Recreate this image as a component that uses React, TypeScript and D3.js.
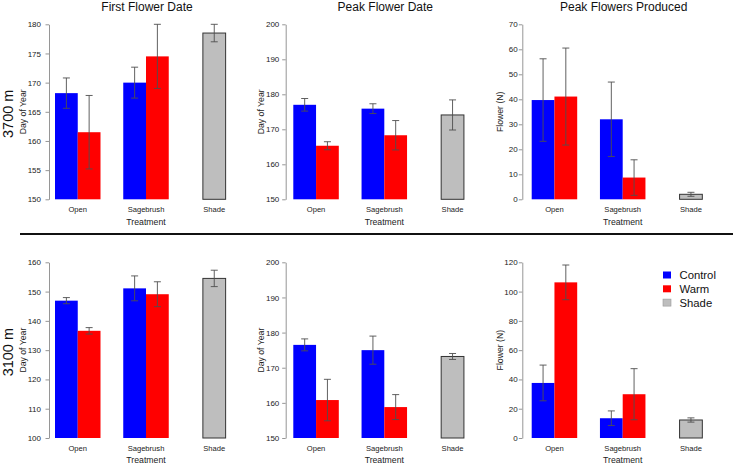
import React, { useRef, useEffect } from 'react';
import * as d3 from 'd3';

// treatment groups on the x axis and the bar series
const groups = ['Open', 'Sagebrush', 'Shade'];
const pairTreatments = ['Control', 'Warm'];
const legendLabels = ['Control', 'Warm', 'Shade'];
const sites = ['3700 m', '3100 m'];
const panelTitles = ['First Flower Date', 'Peak Flower Date', 'Peak Flowers Produced'];
const yTitles = ['Day of Year', 'Day of Year', 'Flower (N)'];

// bar order: Open-Control, Open-Warm, Sagebrush-Control, Sagebrush-Warm, Shade
const barGroups = ['Open', 'Open', 'Sagebrush', 'Sagebrush', 'Shade'];
const barTreatments = ['Control', 'Warm', 'Control', 'Warm', 'Shade'];

// 3700 m
const firstFlower3700 = [168.2, 161.5, 170.0, 174.5, 178.5];
const firstFlower3700Err = [2.6, 6.3, 2.65, 5.5, 1.5];
const peakDate3700 = [177.0, 165.3, 175.9, 168.3, 174.1];
const peakDate3700Err = [1.8, 1.15, 1.4, 4.2, 4.3];
const peakFlowers3700 = [39.7, 41.1, 32.0, 8.7, 2.0];
const peakFlowers3700Err = [16.5, 19.4, 14.9, 7.1, 0.8];

// 3100 m
const firstFlower3100 = [146.9, 136.6, 151.1, 149.1, 154.5];
const firstFlower3100Err = [1.05, 1.1, 4.25, 4.25, 2.8];
const peakDate3100 = [176.5, 160.8, 175.0, 158.8, 173.2];
const peakDate3100Err = [1.7, 5.9, 4.0, 3.55, 0.85];
const peakFlowers3100 = [37.6, 106.3, 13.5, 29.9, 12.3];
const peakFlowers3100Err = [12.2, 11.85, 5.0, 17.45, 1.45];

// y axis ranges and tick steps
const yDomains3700 = [[150, 180], [150, 200], [0, 70]];
const yTicks3700 = [5, 10, 10];
const yDomains3100 = [[100, 160], [150, 200], [0, 120]];
const yTicks3100 = [10, 10, 20];

const colors: Record<string, string> = { Control: '#0000ff', Warm: '#ff0000', Shade: '#bebebe' };

const FONT = '"Liberation Sans", Arial, sans-serif';

const App = () => {
  const ref = useRef<SVGSVGElement>(null);

  useEffect(() => {
    const svg = d3.select(ref.current);
    svg.selectAll('*').remove();

    const colStart = [55, 293.3, 531.7];
    const axisGap = [6, 7.6, 9.4];
    const rowBottom = [199.3, 438];
    const rowTop = [24.3, 262.3];

    const rows = [
      { vals: [firstFlower3700, peakDate3700, peakFlowers3700], errs: [firstFlower3700Err, peakDate3700Err, peakFlowers3700Err], domains: yDomains3700, steps: yTicks3700 },
      { vals: [firstFlower3100, peakDate3100, peakFlowers3100], errs: [firstFlower3100Err, peakDate3100Err, peakFlowers3100Err], domains: yDomains3100, steps: yTicks3100 },
    ];

    rows.forEach((row, r) => {
      // site label
      const midY = (rowTop[r] + rowBottom[r]) / 2;
      svg.append('text')
        .attr('transform', `translate(13,${midY + 2}) rotate(-90)`)
        .attr('text-anchor', 'middle')
        .style('font-family', FONT)
        .style('font-size', '14.5px')
        .attr('fill', '#111')
        .text(sites[r]);

      row.vals.forEach((vals, c) => {
        const start = colStart[c];
        const errs = row.errs[c];
        const dom = row.domains[c];

        const x = d3.scaleBand().domain(groups).range([start, start + 182]).paddingInner(1 / 3);
        const sub = d3.scaleBand().domain(pairTreatments).range([0, x.bandwidth()]);
        const barW = sub.bandwidth();
        const y = d3.scaleLinear().domain(dom).range([rowBottom[r], rowTop[r]]);

        const barX = (i: number) => barGroups[i] === 'Shade'
          ? (x(barGroups[i]) as number) + x.bandwidth() / 2 - barW / 2
          : (x(barGroups[i]) as number) + (sub(barTreatments[i]) as number);

        const g = svg.append('g');

        // y axis
        const axisX = start - axisGap[c];
        const labelRight = start - 14;
        const ticks = d3.range(dom[0], dom[1] + 0.001, row.steps[c]);
        const ax = g.append('g')
          .attr('transform', `translate(${axisX},0)`)
          .call(d3.axisLeft(y).tickValues(ticks).tickSize(3.5).tickSizeOuter(0)
            .tickPadding(axisX - 3.5 - labelRight).tickFormat(d3.format('d')));
        ax.select('.domain').attr('stroke', '#8a8a8a').attr('stroke-width', 0.9);
        ax.selectAll('.tick line').attr('stroke', '#8a8a8a').attr('stroke-width', 0.9);
        ax.selectAll('.tick text')
          .style('font-family', FONT)
          .style('font-size', '8px')
          .attr('fill', '#222');

        // y title
        g.append('text')
          .attr('transform', `translate(${start - 29},${midY}) rotate(-90)`)
          .attr('text-anchor', 'middle')
          .style('font-family', FONT)
          .style('font-size', '8.7px')
          .attr('fill', '#222')
          .text(yTitles[c]);

        // bars
        g.selectAll('rect.bar')
          .data(vals)
          .enter().append('rect')
          .attr('class', 'bar')
          .attr('x', (d, i) => barX(i))
          .attr('width', barW)
          .attr('y', d => y(d))
          .attr('height', d => y(dom[0]) - y(d))
          .attr('fill', (d, i) => colors[barTreatments[i]])
          .attr('stroke', (d, i) => barTreatments[i] === 'Shade' ? '#333' : 'none')
          .attr('stroke-width', 1);

        // error bars
        vals.forEach((v, i) => {
          const cx = barX(i) + barW / 2;
          const lo = Math.max(v - errs[i], dom[0]);
          const hi = v + errs[i];
          const eg = g.append('g').attr('stroke', '#4f4f4f').attr('stroke-width', 0.9);
          eg.append('line').attr('x1', cx).attr('x2', cx).attr('y1', y(lo)).attr('y2', y(hi));
          eg.append('line').attr('x1', cx - 3.5).attr('x2', cx + 3.5).attr('y1', y(lo)).attr('y2', y(lo));
          eg.append('line').attr('x1', cx - 3.5).attr('x2', cx + 3.5).attr('y1', y(hi)).attr('y2', y(hi));
        });

        // category labels
        g.selectAll('text.cat')
          .data(groups)
          .enter().append('text')
          .attr('class', 'cat')
          .attr('x', d => d === 'Shade' ? barX(4) + barW / 2 : (x(d) as number) + x.bandwidth() / 2)
          .attr('y', rowBottom[r] + 12.6)
          .attr('text-anchor', 'middle')
          .style('font-family', FONT)
          .style('font-size', '7.6px')
          .attr('fill', '#222')
          .text(d => d);

        g.append('text')
          .attr('x', start + 91)
          .attr('y', rowBottom[r] + 25.3)
          .attr('text-anchor', 'middle')
          .style('font-family', FONT)
          .style('font-size', '8.7px')
          .attr('fill', '#222')
          .text('Treatment');

        if (r === 0) {
          g.append('text')
            .attr('x', start + 92)
            .attr('y', 11)
            .attr('text-anchor', 'middle')
            .style('font-family', FONT)
            .style('font-size', '12px')
            .attr('fill', '#111')
            .text(panelTitles[c]);
        }
      });
    });

    // separator between sites
    svg.append('line')
      .attr('x1', 20).attr('x2', 733)
      .attr('y1', 234).attr('y2', 234)
      .attr('stroke', '#111').attr('stroke-width', 2);

    // legend
    const lg = svg.append('g').attr('transform', 'translate(663,275)');
    legendLabels.forEach((lab, i) => {
      lg.append('rect')
        .attr('x', 0).attr('y', i * 13.8 - 3.5)
        .attr('width', 8).attr('height', 7)
        .attr('fill', colors[lab])
        .attr('stroke', lab === 'Shade' ? '#999' : 'none')
        .attr('stroke-width', 0.6);
      lg.append('text')
        .attr('x', 16.5).attr('y', i * 13.8 + 4)
        .style('font-family', FONT)
        .style('font-size', '11.3px')
        .attr('fill', '#111')
        .text(lab);
    });
  }, []);

  return (
    <svg ref={ref} width={733} height={466}
      style={{ position: 'absolute', left: 0, top: 0, background: 'white' }} />
  );
};

export default App;
